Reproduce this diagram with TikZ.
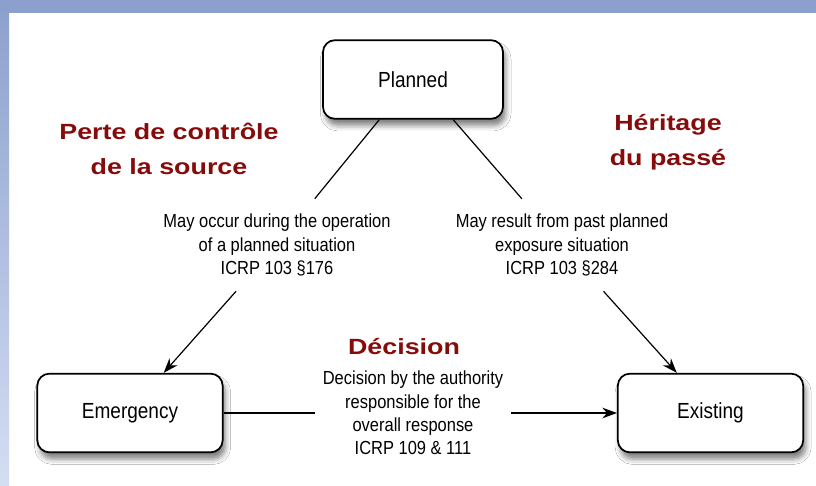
\documentclass[tikz,border=0pt]{standalone}
\usepackage{fontspec}
\usepackage{tikz}
\usetikzlibrary{arrows.meta,shadows.blur}

\newfontfamily\boxfont[FakeStretch=0.87]{Liberation Sans}
\newfontfamily\redfont[FakeStretch=1.22]{Liberation Sans}
\definecolor{titlered}{RGB}{134,12,12}
\definecolor{bandblue}{RGB}{139,160,204}
\definecolor{bandlight}{RGB}{212,221,243}

\begin{document}
\begin{tikzpicture}[x=0.75pt,y=0.75pt,yscale=-1,xscale=1,
	sitbox/.style={draw, line width=1.3pt, rounded corners=9pt, fill=white,
		minimum width=139pt, minimum height=59pt, inner sep=0pt,
		font=\boxfont\fontsize{16.4}{20}\selectfont,
		blur shadow={shadow xshift=2pt, shadow yshift=-5pt, shadow blur radius=4pt, shadow opacity=50}},
	note/.style={align=center, inner sep=0pt, minimum height=69pt,
		font=\boxfont\fontsize{14.2}{17.4}\selectfont},
	heading/.style={align=center, inner sep=0pt, text=titlered,
		font=\redfont\bfseries\fontsize{16.5}{26}\selectfont},
	link/.style={line width=0.9pt},
	arrow/.style={link, -{Stealth[length=11pt,width=8pt]}}]
	\useasboundingbox (0,0) rectangle (816,485);
	
	%Background
	\fill[white] (0,0) rectangle (816,485);
	\shade[top color=bandblue, bottom color=bandlight] (0,0) rectangle (9,485);
	\fill[bandblue] (0,0) rectangle (816,13);
	
	%Situations
	\node[sitbox, minimum width=135pt] (planned) at (413,79.5) {Planned};
	\node[sitbox] (emergency) at (130,413) {Emergency};
	\node[sitbox] (existing) at (710.5,413) {Existing};
	
	%Titles
	\node[heading] (perte) at (169,149) {Perte de contrôle\\de la source};
	\node[heading] (heritage) at (668,142) {Héritage\\du passé};
	\node[heading] (decisiontitle) at (404,347) {Décision};
	
	%Notes
	\node[note] (duringop) at (277,245) {May occur during the operation\\of a planned situation\\ICRP 103 §176};
	\node[note] (pastexp) at (562,245) {May result from past planned\\exposure situation\\ICRP 103 §284};
	\node[note, minimum width=147pt] (authority) at (413,413) {Decision by the authority\\responsible for the\\overall response\\ICRP 109 \& 111};
	
	%Straight Lines
	\draw[link] (planned.230) -- (duringop);
	\draw[arrow] (duringop) -- (emergency.50);
	\draw[link] (planned.315) -- (pastexp);
	\draw[arrow] (pastexp) -- (existing.130);
	\draw[link] (emergency) -- (authority);
	\draw[arrow] (authority) -- (existing);
	
\end{tikzpicture}
\end{document}
